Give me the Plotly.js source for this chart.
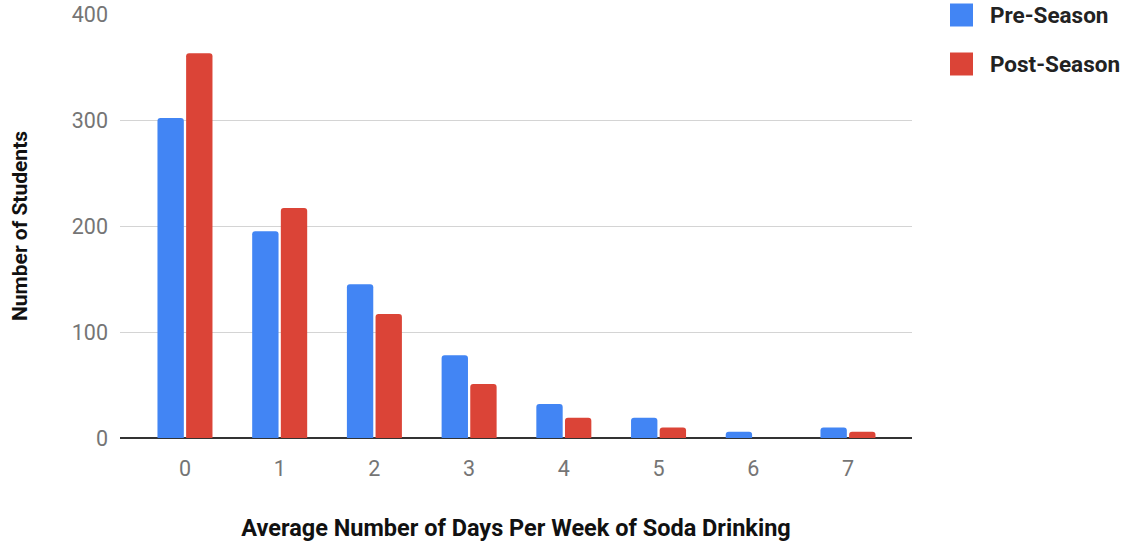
<!DOCTYPE html>
<html>
<head>
<meta charset="utf-8">
<script src="https://cdn.plot.ly/plotly-3.0.1.min.js"></script>
<style>
  html, body { margin: 0; padding: 0; background: #fff; }
  #chart { width: 1126px; height: 548px; }
</style>
</head>
<body>
<div id="chart"></div>
<script>
// Days per week of soda drinking, and student counts per season
const days = ['0', '1', '2', '3', '4', '5', '6', '7'];
const preSeason = [302, 195, 145, 78, 32, 19, 6, 10];
const postSeason = [363, 217, 117, 51, 19, 10, 0, 6];
const seriesNames = ['Pre-Season', 'Post-Season'];
const seriesColors = ['#4285F4', '#DB4437'];
const yTicks = [0, 100, 200, 300, 400];

const FONT = 'Roboto, "Liberation Sans", sans-serif';

const traces = [preSeason, postSeason].map((vals, i) => ({
  type: 'bar',
  name: seriesNames[i],
  x: days,
  y: vals,
  marker: { color: seriesColors[i], line: { width: 0 } },
  hoverinfo: 'x+y+name',
  showlegend: false
}));

// Legend drawn as rounded swatches beside the plot
const shapes = [];
const annotations = [];
seriesNames.forEach((name, i) => {
  const cy = 15 + i * 49;
  shapes.push({
    type: 'rect', xref: 'paper', yref: 'paper', layer: 'above',
    x0: (950 - 120) / 792, x1: (973 - 120) / 792,
    y0: (438 - (cy + 11.5)) / 424, y1: (438 - (cy - 11.5)) / 424,
    fillcolor: seriesColors[i], line: { width: 0 }
  });
  annotations.push({
    xref: 'paper', yref: 'paper', x: (988 - 120) / 792, y: (438 - cy) / 424,
    xanchor: 'left', yanchor: 'middle', showarrow: false,
    text: '<b>' + name + '</b>',
    font: { family: FONT, size: 22.5, color: '#222222' }
  });
});

const layout = {
  width: 1126,
  height: 548,
  margin: { l: 120, r: 214, t: 14, b: 110 },
  paper_bgcolor: '#ffffff',
  plot_bgcolor: '#ffffff',
  font: { family: FONT },
  barmode: 'group',
  bargap: 0.395,
  bargroupgap: 0.08,
  barcornerradius: 3,
  xaxis: {
    type: 'category',
    range: [-0.686, 7.676],
    showgrid: false,
    zeroline: false,
    showline: false,
    ticks: '',
    ticklabelstandoff: 15,
    tickfont: { family: FONT, size: 21.5, color: '#757575' },
    title: {
      text: '<b>Average Number of Days Per Week of Soda Drinking</b>',
      font: { family: FONT, size: 23.5, color: '#111111' },
      standoff: 40
    },
    fixedrange: true
  },
  yaxis: {
    range: [0, 400],
    tickvals: yTicks,
    ticktext: yTicks.map(String),
    showgrid: true,
    gridcolor: '#d4d4d4',
    gridwidth: 1,
    zeroline: true,
    zerolinecolor: '#333333',
    zerolinewidth: 1.5,
    showline: false,
    ticks: '',
    ticklabelstandoff: 11,
    tickfont: { family: FONT, size: 21.5, color: '#757575' },
    title: {
      text: '<b>Number of Students</b>',
      font: { family: FONT, size: 21, color: '#111111' },
      standoff: 38
    },
    fixedrange: true
  },
  shapes: shapes,
  annotations: annotations
};

Plotly.newPlot('chart', traces, layout, { displayModeBar: false, staticPlot: true });
</script>
</body>
</html>
